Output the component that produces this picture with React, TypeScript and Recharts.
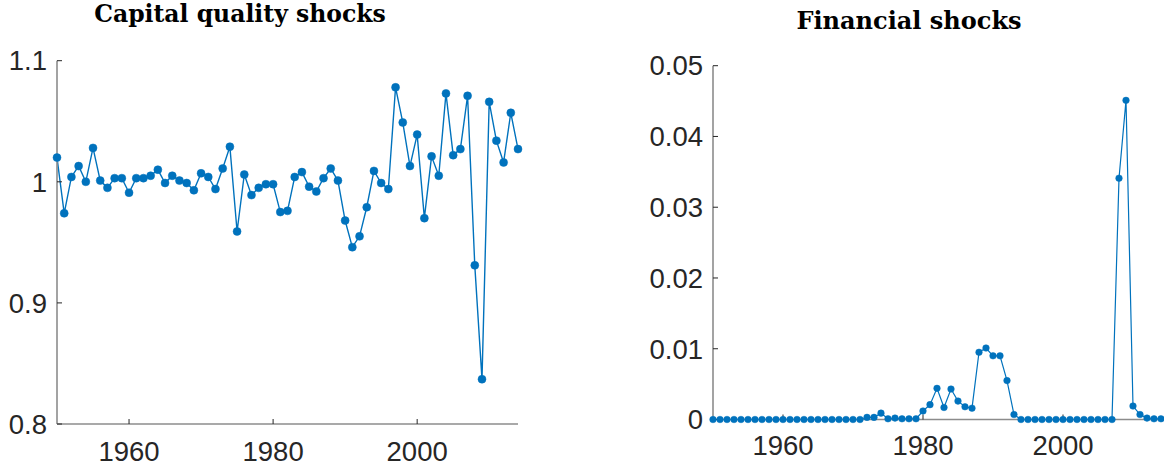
import { LineChart, Line, XAxis, YAxis } from "recharts"

const years = [
  1950, 1951, 1952, 1953, 1954, 1955, 1956, 1957, 1958, 1959,
  1960, 1961, 1962, 1963, 1964, 1965, 1966, 1967, 1968, 1969,
  1970, 1971, 1972, 1973, 1974, 1975, 1976, 1977, 1978, 1979,
  1980, 1981, 1982, 1983, 1984, 1985, 1986, 1987, 1988, 1989,
  1990, 1991, 1992, 1993, 1994, 1995, 1996, 1997, 1998, 1999,
  2000, 2001, 2002, 2003, 2004, 2005, 2006, 2007, 2008, 2009,
  2010, 2011, 2012, 2013, 2014,
]

const capitalQuality = [
  1.020, 0.974, 1.004, 1.013, 1.000, 1.028, 1.001, 0.995, 1.003, 1.003,
  0.991, 1.003, 1.003, 1.005, 1.010, 0.999, 1.005, 1.001, 0.999, 0.993,
  1.007, 1.004, 0.994, 1.011, 1.029, 0.959, 1.006, 0.989, 0.995, 0.998,
  0.998, 0.975, 0.976, 1.004, 1.008, 0.996, 0.992, 1.003, 1.011, 1.001,
  0.968, 0.946, 0.955, 0.979, 1.009, 0.999, 0.994, 1.078, 1.049, 1.013,
  1.039, 0.970, 1.021, 1.005, 1.073, 1.022, 1.027, 1.071, 0.931, 0.837,
  1.066, 1.034, 1.016, 1.057, 1.027,
]

const financial = [
  0, 0, 0, 0, 0, 0, 0, 0, 0, 0,
  0, 0, 0, 0, 0, 0, 0, 0, 0, 0,
  0, 0, 0.0003, 0.0003, 0.0009, 0.0001, 0.0002, 0.0001, 0.0001, 0.0001,
  0.0012, 0.0021, 0.0044, 0.0017, 0.0043, 0.0026, 0.0018, 0.0016, 0.0095, 0.0101,
  0.009, 0.009, 0.0055, 0.0007, 0, 0, 0, 0, 0, 0,
  0, 0, 0, 0, 0, 0, 0, 0, 0.0341, 0.0451,
  0.0019, 0.0007, 0.0002, 0.0001, 0.0001,
]

const yearTicks = [1960, 1980, 2000]
const capitalTicks = [0.8, 0.9, 1, 1.1]
const financialTicks = [0, 0.01, 0.02, 0.03, 0.04, 0.05]

const capitalData = years.map((year, i) => ({ year, value: capitalQuality[i] }))
const financialData = years.map((year, i) => ({ year, value: financial[i] }))

const blue = "#0072BD"
const tickFont = { fontFamily: "Liberation Sans, Arial, sans-serif", fontSize: 27.5, fill: "#262626" }
const axisLine = { stroke: "#8c8c8c", strokeWidth: 1.6 }
const tickLine = { stroke: "#262626", strokeWidth: 1 }

export default function App() {
  return (
    <div style={{ position: "absolute", left: 0, top: 0, width: 1164, height: 469, overflow: "hidden", background: "#fff" }}>
      <svg width={1164} height={469} style={{ position: "absolute", left: 0, top: 0 }}>
        <text x={240} y={22} textAnchor="middle" fontFamily="DejaVu Serif" fontWeight="bold" fontSize={23.5} fill="#000">
          Capital quality shocks
        </text>
        <text x={909} y={28.5} textAnchor="middle" fontFamily="DejaVu Serif" fontWeight="bold" fontSize={24} fill="#000">
          Financial shocks
        </text>
      </svg>

      <div style={{ position: "absolute", left: 0, top: 0 }}>
        <LineChart width={600} height={469} data={capitalData} margin={{ top: 60.7, right: 82, bottom: 15, left: 0 }}>
          <XAxis
            dataKey="year"
            type="number"
            domain={[1950, 2014]}
            ticks={yearTicks}
            height={30}
            tick={tickFont}
            tickSize={-5}
            tickMargin={22}
            axisLine={axisLine}
            tickLine={tickLine}
          />
          <YAxis
            type="number"
            domain={[0.8, 1.1]}
            ticks={capitalTicks}
            width={57}
            tick={tickFont}
            tickSize={-5}
            tickMargin={15}
            axisLine={axisLine}
            tickLine={tickLine}
            allowDataOverflow
          />
          <Line
            dataKey="value"
            stroke={blue}
            strokeWidth={1.4}
            dot={{ r: 4, fill: blue, stroke: blue, strokeWidth: 0.5 }}
            isAnimationActive={false}
          />
        </LineChart>
      </div>

      <div style={{ position: "absolute", left: 640, top: 0 }}>
        <LineChart width={530} height={469} data={financialData} margin={{ top: 65.7, right: 5.5, bottom: 19.5, left: 0 }}>
          <XAxis
            dataKey="year"
            type="number"
            domain={[1950, 2014.5]}
            ticks={yearTicks}
            height={30}
            tick={tickFont}
            tickSize={-5}
            tickMargin={21}
            axisLine={axisLine}
            tickLine={tickLine}
          />
          <YAxis
            type="number"
            domain={[0, 0.05]}
            ticks={financialTicks}
            width={73}
            tick={tickFont}
            tickSize={-5}
            tickMargin={15}
            axisLine={axisLine}
            tickLine={tickLine}
          />
          <Line
            dataKey="value"
            stroke={blue}
            strokeWidth={1.2}
            dot={{ r: 3.3, fill: blue, stroke: blue, strokeWidth: 0.5 }}
            isAnimationActive={false}
          />
        </LineChart>
      </div>
    </div>
  )
}
